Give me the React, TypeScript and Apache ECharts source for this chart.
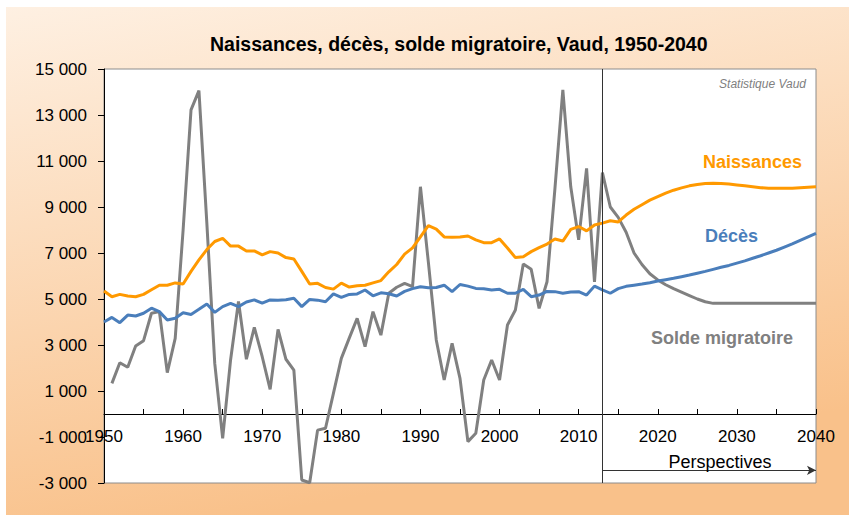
import { useEffect, useRef } from 'react';
import * as echarts from 'echarts';

const FIRST_YEAR = 1950;
const LAST_YEAR = 2040;
const PROJECTION_START = 2013;

const years: number[] = [];
for (let y = FIRST_YEAR; y <= LAST_YEAR; y++) years.push(y);

// 1950 .. 2040
const naissances = [
  5350, 5100, 5200, 5130, 5100, 5200, 5400, 5600, 5600, 5700,
  5650, 6200, 6700, 7150, 7500, 7640, 7300, 7300, 7090, 7090,
  6920, 7060, 7000, 6800, 6740, 6200, 5650, 5680, 5500, 5430,
  5690, 5520, 5580, 5600, 5700, 5800, 6180, 6500, 6950, 7220,
  7700, 8190, 8040, 7700, 7680, 7700, 7740, 7570, 7450, 7450,
  7610, 7220, 6800, 6840, 7060, 7230, 7390, 7610, 7520, 8030,
  8150, 7960, 8220, 8300, 8400, 8350, 8650, 8900, 9100, 9300,
  9450, 9600, 9730, 9830, 9920, 9980, 10020, 10030, 10020, 10000,
  9960, 9920, 9880, 9840, 9820, 9810, 9810, 9820, 9840, 9860,
  9880,
];

const deces = [
  4000, 4200, 3970, 4300, 4260, 4380, 4600, 4450, 4090, 4160,
  4400, 4330, 4550, 4780, 4420, 4670, 4810, 4670, 4870, 4960,
  4820, 4960, 4950, 4970, 5030, 4670, 4980, 4950, 4880, 5220,
  5070, 5200, 5220, 5390, 5140, 5270, 5230, 5130, 5330, 5450,
  5530, 5490, 5500, 5600, 5320, 5630, 5560, 5460, 5450, 5390,
  5420, 5250, 5250, 5420, 5100, 5170, 5330, 5320, 5250, 5300,
  5320, 5170, 5560, 5400, 5250, 5450, 5550, 5600, 5650, 5710,
  5780, 5840, 5900, 5970, 6040, 6120, 6200, 6290, 6380, 6460,
  6560, 6660, 6770, 6880, 7000, 7120, 7260, 7400, 7550, 7700,
  7850,
];

const soldeMigratoire: (number | null)[] = [
  null, 1330, 2230, 2030, 2960, 3190, 4380, 4450, 1800, 3290,
  8000, 13220, 14060, 8300, 2200, -1060, 2350, 4890, 2380, 3770,
  2490, 1070, 3680, 2380, 1910, -2870, -2990, -700, -620, 900,
  2420, 3300, 4160, 2930, 4450, 3430, 5250, 5510, 5680, 5540,
  9880, 6600, 3220, 1480, 3070, 1550, -1200, -840, 1480, 2350,
  1480, 3870, 4520, 6520, 6290, 4590, 5750, 9800, 14090, 9880,
  7570, 10680, 5740, 10500, 9000, 8550, 7900, 7000, 6500, 6100,
  5830, 5620, 5450, 5300, 5150, 5000, 4880, 4810, 4810, 4810,
  4810, 4810, 4810, 4810, 4810, 4810, 4810, 4810, 4810, 4810,
  4810,
];

const yTickMin = -3000;
const yTickMax = 15000;
const yTickStep = 2000;
const arrowLevel = -2450;

const FONT = '"Liberation Sans", Arial, sans-serif';

const GRID_TOP = 69;
const GRID_BOTTOM = 32;
const CHART_H = 515;
const gridHeight = CHART_H - GRID_TOP - GRID_BOTTOM;
// move x axis up to the zero line of the y scale
const xAxisOffset = -((0 - yTickMin) / (yTickMax - yTickMin)) * gridHeight;

const fmtThousands = (v: number) => {
  const s = Math.abs(v).toString().replace(/\B(?=(\d{3})+(?!\d))/g, ' ');
  return (v < 0 ? '-' : '') + s;
};

const pairs = (vals: (number | null)[]) => years.map((y, i) => [y, vals[i]]);

export default function App() {
  const ref = useRef<HTMLDivElement>(null);

  useEffect(() => {
    if (!ref.current) return;
    const chart = echarts.init(ref.current, undefined, { renderer: 'svg' });
    const option: any = {
      animation: false,
      backgroundColor: '#ffffff',
      title: {
        text: 'Naissances, décès, solde migratoire, Vaud, 1950-2040',
        left: 210,
        top: 34,
        padding: 0,
        textStyle: { fontFamily: FONT, fontWeight: 'bold', fontSize: 19.5, color: '#000' },
      },
      grid: {
        left: 104,
        top: GRID_TOP,
        right: 33,
        bottom: GRID_BOTTOM,
        show: true,
        backgroundColor: '#ffffff',
        borderColor: '#8c8c8c',
        borderWidth: 1,
        containLabel: false,
      },
      xAxis: {
        type: 'value',
        position: 'bottom',
        offset: xAxisOffset,
        min: FIRST_YEAR,
        max: LAST_YEAR,
        interval: 5,
        axisLine: { onZero: false, lineStyle: { color: '#000', width: 1 } },
        axisTick: { show: true, inside: true, length: 5, lineStyle: { color: '#000' } },
        axisLabel: {
          margin: 14,
          fontFamily: FONT,
          fontSize: 17,
          color: '#000',
          formatter: (v: number) => (v % 10 === 0 ? String(v) : ''),
        },
        splitLine: { show: false },
      },
      yAxis: {
        type: 'value',
        min: yTickMin,
        max: yTickMax,
        interval: yTickStep,
        axisLine: { show: true, onZero: false, lineStyle: { color: '#000', width: 1 } },
        axisTick: { show: true, inside: false, length: 6, lineStyle: { color: '#000' } },
        axisLabel: {
          margin: 17,
          fontFamily: FONT,
          fontSize: 17,
          color: '#000',
          formatter: (v: number) => fmtThousands(v),
        },
        splitLine: { show: false },
      },
      graphic: [
        {
          type: 'rect',
          z: -100,
          shape: { x: 6, y: 7, width: 843, height: 508 },
          style: {
            fill: new echarts.graphic.LinearGradient(0, 0, 0.3, 1, [
              { offset: 0, color: '#FEF0E2' },
              { offset: 1, color: '#F9C18A' },
            ]),
          },
          silent: true,
        },
        {
          type: 'text',
          z: 100,
          x: 806,
          y: 84,
          style: {
            text: 'Statistique Vaud',
            fill: '#808080',
            font: `italic 12px ${FONT}`,
            align: 'right',
            verticalAlign: 'middle',
          },
        },
        {
          type: 'text',
          z: 100,
          x: 703,
          y: 162,
          style: {
            text: 'Naissances',
            fill: '#FF9900',
            font: `bold 18px ${FONT}`,
            align: 'left',
            verticalAlign: 'middle',
          },
        },
        {
          type: 'text',
          z: 100,
          x: 705,
          y: 236,
          style: {
            text: 'Décès',
            fill: '#4A7EBB',
            font: `bold 18px ${FONT}`,
            align: 'left',
            verticalAlign: 'middle',
          },
        },
        {
          type: 'text',
          z: 100,
          x: 651,
          y: 338,
          style: {
            text: 'Solde migratoire',
            fill: '#808080',
            font: `bold 18px ${FONT}`,
            align: 'left',
            verticalAlign: 'middle',
          },
        },
        {
          type: 'text',
          z: 100,
          x: 720,
          y: 462,
          style: {
            text: 'Perspectives',
            fill: '#000',
            font: `18px ${FONT}`,
            align: 'center',
            verticalAlign: 'middle',
          },
        },
      ],
      series: [
        {
          name: 'Solde migratoire',
          type: 'line',
          data: pairs(soldeMigratoire),
          showSymbol: false,
          connectNulls: false,
          lineStyle: { color: '#808080', width: 3 },
          itemStyle: { color: '#808080' },
          z: 2,
          silent: true,
        },
        {
          name: 'Décès',
          type: 'line',
          data: pairs(deces),
          showSymbol: false,
          lineStyle: { color: '#4A7EBB', width: 3 },
          itemStyle: { color: '#4A7EBB' },
          z: 3,
          silent: true,
        },
        {
          name: 'Naissances',
          type: 'line',
          data: pairs(naissances),
          showSymbol: false,
          lineStyle: { color: '#FF9900', width: 3 },
          itemStyle: { color: '#FF9900' },
          z: 4,
          silent: true,
          markLine: {
            silent: true,
            animation: false,
            symbol: ['none', 'none'],
            label: { show: false },
            lineStyle: { color: '#333', width: 1, type: 'solid' },
            data: [
              { xAxis: PROJECTION_START },
              [
                { coord: [PROJECTION_START, arrowLevel], symbol: 'none' },
                { coord: [LAST_YEAR, arrowLevel], symbol: 'arrow', symbolSize: [7, 9] },
              ],
            ],
          },
        },
      ],
    };
    chart.setOption(option);
    return () => chart.dispose();
  }, []);

  return (
    <div
      ref={ref}
      style={{ position: 'fixed', left: 0, top: 0, width: 849, height: 515 }}
    />
  );
}
